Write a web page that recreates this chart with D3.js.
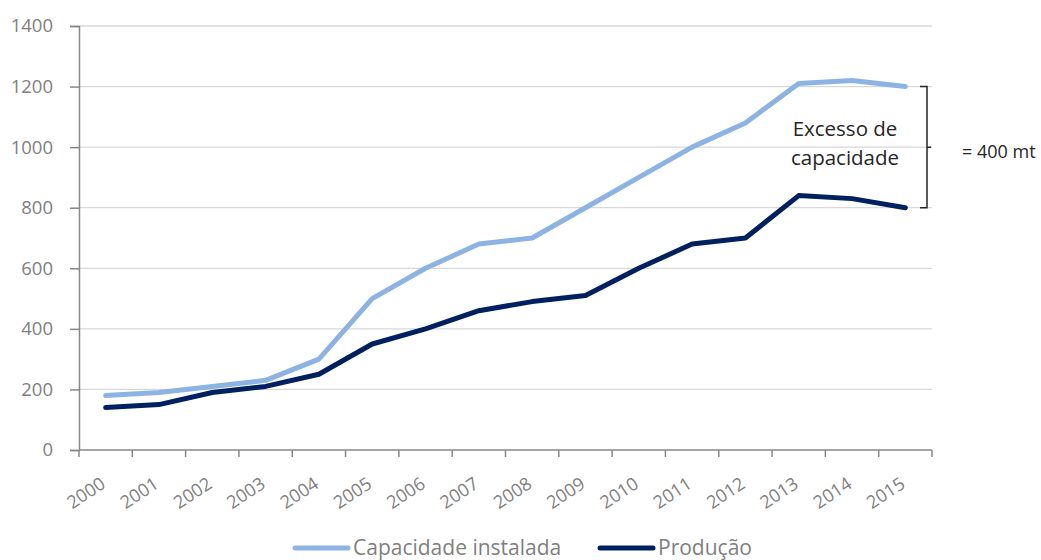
<!DOCTYPE html>
<html>
<head>
<meta charset="utf-8">
<script src="https://cdn.jsdelivr.net/npm/d3@7/dist/d3.min.js"></script>
<style>
  html, body { margin: 0; padding: 0; background: #ffffff; }
  svg { display: block; }
  text { font-family: "Open Sans", "Noto Sans", sans-serif; }
</style>
</head>
<body>
<svg id="chart" width="1041" height="560"></svg>
<script>
// Years on the category axis
const years = ["2000","2001","2002","2003","2004","2005","2006","2007","2008","2009","2010","2011","2012","2013","2014","2015"];
// Installed capacity (mt)
const capacidade = [180, 190, 210, 230, 300, 500, 600, 680, 700, 800, 900, 1000, 1080, 1210, 1220, 1200];
// Production (mt)
const producao = [140, 150, 190, 210, 250, 350, 400, 460, 490, 510, 600, 680, 700, 840, 830, 800];
// Value axis ticks
const yTicks = [0, 200, 400, 600, 800, 1000, 1200, 1400];
// Series names for the legend
const seriesNames = ["Capacidade instalada", "Produção"];
// Bracket annotation
const bracketTop = 1200, bracketBottom = 800;
const annotationLines = ["Excesso de", "capacidade"];
const bracketLabel = "= 400 mt";

const colors = ["#8db3e2", "#002060"];
const svg = d3.select("#chart");

const plot = { left: 79, right: 932, top: 26, bottom: 450 };

const x = d3.scaleBand().domain(years).range([plot.left, plot.right]).padding(0);
const y = d3.scaleLinear().domain([0, 1400]).range([plot.bottom, plot.top]);

// Horizontal gridlines
svg.append("g")
  .selectAll("line")
  .data(yTicks.filter(d => d > 0))
  .join("line")
  .attr("x1", plot.left).attr("x2", plot.right)
  .attr("y1", d => y(d)).attr("y2", d => y(d))
  .attr("stroke", "#d9d9d9").attr("stroke-width", 1.3);

// Value axis
const yAxis = svg.append("g")
  .attr("transform", `translate(${plot.left},0)`)
  .call(d3.axisLeft(y).tickValues(yTicks).tickSize(9).tickPadding(17).tickFormat(d3.format("d")));
yAxis.select(".domain").attr("stroke", "#888888").attr("stroke-width", 1.5);
yAxis.selectAll(".tick line").attr("stroke", "#888888").attr("stroke-width", 1.5);
yAxis.selectAll(".tick text")
  .attr("fill", "#7f7f7f")
  .style("font-size", "18.5px")
  .style("font-family", "'Open Sans', sans-serif");

// Category axis: ticks sit on band boundaries
const xAxisG = svg.append("g").attr("transform", `translate(0,${plot.bottom})`);
xAxisG.append("line")
  .attr("x1", plot.left).attr("x2", plot.right)
  .attr("y1", 0).attr("y2", 0)
  .attr("stroke", "#888888").attr("stroke-width", 1.5);
const boundaries = years.map(d => x(d)).concat([x(years[years.length - 1]) + x.bandwidth()]);
xAxisG.selectAll("line.tk")
  .data(boundaries)
  .join("line")
  .attr("class", "tk")
  .attr("x1", d => d).attr("x2", d => d)
  .attr("y1", 0).attr("y2", 7)
  .attr("stroke", "#888888").attr("stroke-width", 1.5);
xAxisG.selectAll("text")
  .data(years)
  .join("text")
  .attr("transform", d => `translate(${x(d) + x.bandwidth() / 2 + 1},${37}) rotate(-33)`)
  .attr("text-anchor", "end")
  .attr("fill", "#7f7f7f")
  .style("font-size", "18px")
  .text(d => d);

// Series lines
const line = d3.line()
  .x((d, i) => x(years[i]) + x.bandwidth() / 2)
  .y(d => y(d));

[capacidade, producao].forEach((series, k) => {
  svg.append("path")
    .datum(series)
    .attr("fill", "none")
    .attr("stroke", colors[k])
    .attr("stroke-width", 5)
    .attr("stroke-linejoin", "round")
    .attr("stroke-linecap", "round")
    .attr("d", line);
});

// Annotation text inside the plot
const ann = svg.append("text")
  .attr("x", 845)
  .attr("y", 136)
  .attr("text-anchor", "middle")
  .attr("fill", "#262626")
  .style("font-size", "20.5px");
annotationLines.forEach((t, i) => {
  ann.append("tspan").attr("x", 845).attr("dy", i === 0 ? 0 : 29).text(t);
});

// Bracket between capacity and production in the last year
const bx = 927;
const yTop = y(bracketTop), yBot = y(bracketBottom), yMid = (yTop + yBot) / 2;
svg.append("path")
  .attr("d", `M${bx - 7},${yTop} H${bx} V${yBot} H${bx - 7} M${bx},${yMid} H${bx + 4}`)
  .attr("fill", "none")
  .attr("stroke", "#262626")
  .attr("stroke-width", 1.5);
svg.append("text")
  .attr("x", 962)
  .attr("y", yMid + 11)
  .attr("fill", "#262626")
  .style("font-size", "18px")
  .text(bracketLabel);

// Legend
const legendItems = [
  { name: seriesNames[0], color: colors[0], x0: 293 },
  { name: seriesNames[1], color: colors[1], x0: 598 }
];
const legendY = 548;
legendItems.forEach(item => {
  svg.append("line")
    .attr("x1", item.x0 + 2).attr("x2", item.x0 + 55)
    .attr("y1", legendY).attr("y2", legendY)
    .attr("stroke", item.color)
    .attr("stroke-width", 5)
    .attr("stroke-linecap", "round");
  svg.append("text")
    .attr("x", item.x0 + 60)
    .attr("y", legendY + 7)
    .attr("fill", "#7f7f7f")
    .style("font-size", "21px")
    .text(item.name);
});
</script>
</body>
</html>
